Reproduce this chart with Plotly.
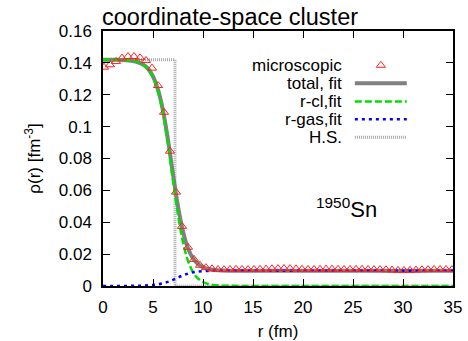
import plotly.graph_objects as go

# microscopic density (triangles)
r_micro = [0.1, 0.7, 1.3, 1.9, 2.5, 3.1, 3.7, 4.3, 4.9, 5.5, 6.1, 6.7, 7.3, 7.9, 8.5, 9.1, 9.7, 10.3,
           10.9, 11.5, 12.1, 12.7, 13.3, 13.9, 14.5, 15.1, 15.7, 16.3,
           16.9, 17.5, 18.1, 18.7, 19.3, 19.9, 20.5, 21.1, 21.7, 22.3,
           22.9, 23.5, 24.1, 24.7, 25.3, 25.9, 26.5, 27.1, 27.7, 28.3,
           28.9, 29.5, 30.1, 30.7, 31.3, 31.9, 32.5, 33.1, 33.7, 34.3, 34.9]
rho_micro = [0.1373, 0.1388, 0.1409, 0.1430, 0.1440, 0.1440, 0.1432, 0.1415, 0.1367, 0.1258, 0.1090,
             0.0846, 0.0589, 0.0374, 0.0243, 0.0167, 0.0130, 0.0115,
             0.0108, 0.0104, 0.0103, 0.0104, 0.0105, 0.0104, 0.0103, 0.0104, 0.0105, 0.0106,
             0.0108, 0.0109, 0.0110, 0.0109, 0.0107, 0.0105, 0.0104, 0.0104, 0.0105, 0.0106,
             0.0106, 0.0105, 0.0104, 0.0104, 0.0105, 0.0105, 0.0104, 0.0103, 0.0103, 0.0102,
             0.0100, 0.0098, 0.0097, 0.0098, 0.0100, 0.0102, 0.0103, 0.0104, 0.0104, 0.0104, 0.0103]

# fit curves
r_fit = [0, 1, 2, 3, 3.5, 4, 4.5, 5, 5.5, 6, 6.5, 7, 7.5, 8, 8.5, 9, 9.5, 10, 10.5, 11,
         12, 13, 14, 15, 20, 25, 30, 35]
rho_total = [0.1420, 0.1419, 0.1418, 0.1412, 0.1404, 0.1390, 0.1364, 0.1315, 0.1232, 0.1100,
             0.0916, 0.0702, 0.0500, 0.0342, 0.0236, 0.0173, 0.0138, 0.0118, 0.0107, 0.0102,
             0.0097, 0.0096, 0.0095, 0.0095, 0.0095, 0.0095, 0.0095, 0.0095]
rho_cl = [0.1420, 0.1419, 0.1418, 0.1411, 0.1403, 0.1388, 0.1360, 0.1309, 0.1222, 0.1083,
          0.0890, 0.0664, 0.0447, 0.0275, 0.0158, 0.0087, 0.0047, 0.0025, 0.0013, 0.0007,
          0.0002, 0.0001, 0.0, 0.0, 0.0, 0.0, 0.0, 0.0]
rho_gas = [0.0, 0.0, 0.0, 0.0001, 0.0001, 0.0002, 0.0004, 0.0006, 0.0010, 0.0017,
           0.0026, 0.0038, 0.0053, 0.0067, 0.0078, 0.0086, 0.0091, 0.0093, 0.0094, 0.0095,
           0.0095, 0.0095, 0.0095, 0.0095, 0.0095, 0.0095, 0.0095, 0.0095]

# hard sphere
r_hs = [0, 7.2, 7.2, 35]
rho_hs = [0.142, 0.142, 0.0, 0.0]

legend_labels = ["microscopic", "total, fit", "r-cl,fit", "r-gas,fit", "H.S."]

FONT = "Liberation Sans, Arial, Helvetica, sans-serif"
RED = "#ff2020"
GREY = "#808080"
GREEN = "#00e000"
BLUE = "#0000ff"
HSGREY = "#a8a8a8"
DASH_CL = "7px,3px"
DOT_GAS = "3px,4px"
DOT_HS = "1px,1px"

fig = go.Figure()
fig.add_trace(go.Scatter(x=r_hs, y=rho_hs, mode="lines",
                         line=dict(color=HSGREY, width=3, dash=DOT_HS)))
fig.add_trace(go.Scatter(x=r_fit, y=rho_total, mode="lines", line_shape="spline",
                         line=dict(color=GREY, width=4)))
fig.add_trace(go.Scatter(x=r_fit, y=rho_cl, mode="lines", line_shape="spline",
                         line=dict(color=GREEN, width=2.5, dash=DASH_CL)))
fig.add_trace(go.Scatter(x=r_fit, y=rho_gas, mode="lines", line_shape="spline",
                         line=dict(color=BLUE, width=2.5, dash=DOT_GAS)))
fig.add_trace(go.Scatter(x=r_micro, y=rho_micro, mode="markers",
                         marker=dict(symbol="triangle-up-open", size=8, color=RED,
                                     line=dict(width=1, color=RED))))

# manual gnuplot-style legend (text left, sample right)
leg_y = [0.8655, 0.795, 0.724, 0.6535, 0.583]
fig.add_trace(go.Scatter(x=[0.794], y=[leg_y[0]], xaxis="x2", yaxis="y2", mode="markers",
                         marker=dict(symbol="triangle-up-open", size=8, color=RED,
                                     line=dict(width=1, color=RED))))
samples = [(GREY, 4, "solid"), (GREEN, 2.5, DASH_CL), (BLUE, 2.5, DOT_GAS), (HSGREY, 3, DOT_HS)]
for yy, (c, w, d) in zip(leg_y[1:], samples):
    fig.add_shape(type="line", xref="paper", yref="paper", x0=0.7196, x1=0.868, y0=yy, y1=yy,
                  line=dict(color=c, width=w, dash=d))
for yy, lab in zip(leg_y, legend_labels):
    fig.add_annotation(x=0.6854, y=yy, xref="paper", yref="paper", text=lab, showarrow=False,
                       xanchor="right", yanchor="middle", borderpad=0,
                       font=dict(size=17, color="black", family=FONT))

fig.add_annotation(x=0.695, y=0.305, xref="paper", yref="paper", text="<sup>1950</sup>Sn",
                   showarrow=False, xanchor="center", yanchor="middle",
                   font=dict(size=22, color="black", family=FONT))

axis_common = dict(showline=True, linecolor="black", linewidth=1.5, mirror="ticks",
                   ticks="inside", ticklen=7, tickwidth=1.2, tickcolor="black",
                   showgrid=False, zeroline=False, automargin=False,
                   tickfont=dict(size=17, color="black", family=FONT))

fig.update_layout(
    width=468, height=341,
    margin=dict(l=103, r=15, t=31, b=55),
    plot_bgcolor="white", paper_bgcolor="white",
    showlegend=False,
    font=dict(family=FONT, color="black"),
    title=dict(text="coordinate-space cluster", x=102/468, xanchor="left", xref="container",
               y=1 - 17/341, yanchor="middle", font=dict(size=23.5, family=FONT, color="black")),
    xaxis=dict(range=[0, 35], tickvals=[0, 5, 10, 15, 20, 25, 30, 35],
               title=dict(text="r (fm)", font=dict(size=17, family=FONT), standoff=10),
               ticklabelstandoff=5, **axis_common),
    yaxis=dict(range=[0, 0.16], tickvals=[0, 0.02, 0.04, 0.06, 0.08, 0.1, 0.12, 0.14, 0.16],
               ticktext=["0", "0.02", "0.04", "0.06", "0.08", "0.1", "0.12", "0.14", "0.16"],
               title=dict(text="ρ(r) [fm<sup>-3</sup>]", font=dict(size=17, family=FONT), standoff=14),
               ticklabelstandoff=6, **axis_common),
    xaxis2=dict(overlaying="x", range=[0, 1], visible=False),
    yaxis2=dict(overlaying="y", range=[0, 1], visible=False),
)

fig.write_html("out.html", config={"displayModeBar": False},
               post_script="document.body.style.margin='0';")
